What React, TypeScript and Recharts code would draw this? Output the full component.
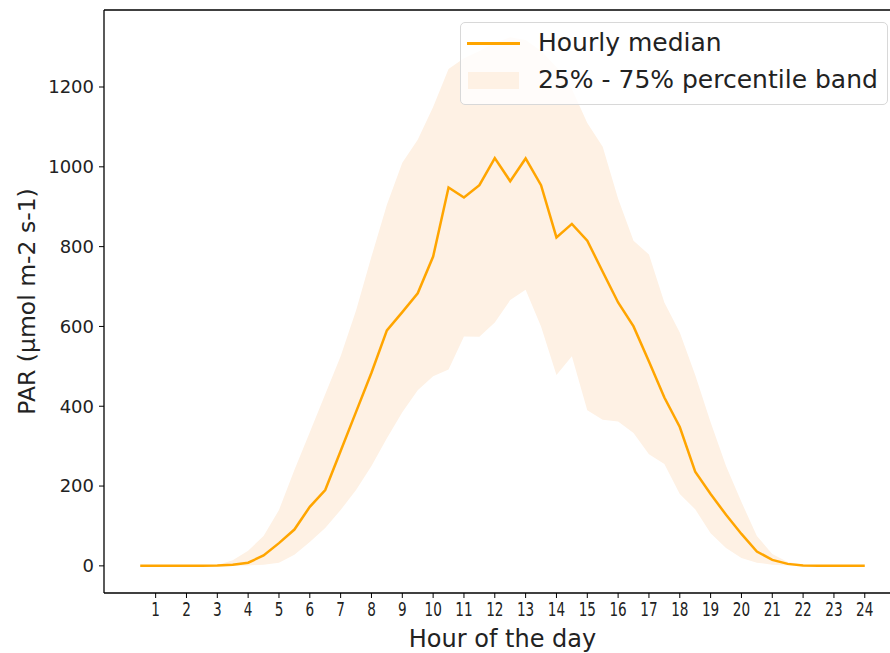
import { ComposedChart, Area, Line, XAxis, YAxis, Legend, Label, ReferenceLine } from "recharts";

// half-hour steps, 0.5 .. 24
const hours = [
  0.5, 1, 1.5, 2, 2.5, 3, 3.5, 4, 4.5, 5, 5.5, 6, 6.5, 7, 7.5, 8, 8.5, 9, 9.5, 10,
  10.5, 11, 11.5, 12, 12.5, 13, 13.5, 14, 14.5, 15, 15.5, 16, 16.5, 17, 17.5, 18,
  18.5, 19, 19.5, 20, 20.5, 21, 21.5, 22, 22.5, 23, 23.5, 24,
];

const medianPar = [
  0, 0, 0, 0, 0, 1, 3, 8, 26, 57, 91, 148, 190, 288, 386, 484, 590, 636, 683, 775,
  948, 923, 954, 1022, 964, 1021, 954, 823, 857, 815, 737, 660, 600, 512, 422, 348,
  236, 180, 128, 80, 36, 15, 5, 1, 0, 0, 0, 0,
];

const p25Par = [
  0, 0, 0, 0, 0, 0, 0, 1, 3, 8, 28, 60, 95, 140, 190, 250, 320, 385, 440, 475,
  492, 575, 574, 610, 666, 692, 600, 478, 525, 390, 366, 362, 333, 280, 255, 180,
  142, 82, 45, 20, 8, 3, 1, 0, 0, 0, 0, 0,
];

const p75Par = [
  0, 0, 0, 0, 0, 2, 14, 38, 75, 140, 240, 335, 430, 525, 640, 775, 905, 1010, 1068, 1150,
  1245, 1272, 1290, 1310, 1325, 1318, 1290, 1250, 1195, 1110, 1050, 920, 815, 780, 660, 585,
  478, 360, 250, 160, 75, 30, 10, 3, 1, 0, 0, 0,
];

const hourTicks = [1, 2, 3, 4, 5, 6, 7, 8, 9, 10, 11, 12, 13, 14, 15, 16, 17, 18, 19, 20, 21, 22, 23, 24];
const parTicks = [0, 200, 400, 600, 800, 1000, 1200];

const ORANGE = "#FFA500";
const BAND = "#FEF1E4";
const FONT = "DejaVu Sans";
const Y_DOMAIN = [-68, 1393];

const data = hours.map((hour, i) => ({
  hour,
  median: medianPar[i],
  band: [p25Par[i], p75Par[i]],
}));

// x tick labels in the original are narrow/tall, so squeeze them a bit
const HourTick = ({ x, y, payload }: any) => (
  <text
    transform={`translate(${x},${y}) scale(0.68,1)`}
    textAnchor="middle"
    dy="0.71em"
    fontSize={20}
    fontFamily={FONT}
    fill="#222"
  >
    {payload.value}
  </text>
);

const LegendBox = () => (
  <div
    style={{
      position: "relative",
      width: 428,
      height: 83,
      boxSizing: "border-box",
      border: "1px solid #d8d8d8",
      borderRadius: 5,
      background: "rgba(255,255,255,0.8)",
      fontFamily: FONT,
      fontSize: 25,
      lineHeight: "25px",
      color: "#222",
    }}
  >
    <div style={{ position: "absolute", left: 6, top: 19, width: 53, height: 2.5, background: ORANGE }} />
    <div style={{ position: "absolute", left: 7, top: 49, width: 51, height: 17, background: BAND }} />
    <div style={{ position: "absolute", left: 77, top: 7, whiteSpace: "nowrap" }}>Hourly median</div>
    <div style={{ position: "absolute", left: 77, top: 44, whiteSpace: "nowrap" }}>
      25% - 75% percentile band
    </div>
  </div>
);

export default function App() {
  return (
    <div style={{ position: "absolute", left: 0, top: 0, width: 890, height: 653, overflow: "hidden", background: "#fff" }}>
      <ComposedChart width={910} height={653} data={data} margin={{ top: 10, right: 9, bottom: 0, left: 0 }}>
        <XAxis
          dataKey="hour"
          type="number"
          domain={[-0.675, 25.175]}
          allowDataOverflow
          ticks={hourTicks}
          interval={0}
          height={60}
          tickSize={5}
          tickMargin={4}
          tick={<HourTick />}
          tickLine={{ stroke: "#000" }}
          axisLine={{ stroke: "#000", strokeWidth: 1.3 }}
        >
          <Label
            content={({ viewBox }: any) => (
              <text
                x={viewBox.x + viewBox.width / 2}
                y={647}
                textAnchor="middle"
                fontSize={24}
                fontFamily={FONT}
                fill="#222"
              >
                Hour of the day
              </text>
            )}
          />
        </XAxis>
        <YAxis
          type="number"
          domain={Y_DOMAIN}
          allowDataOverflow
          ticks={parTicks}
          width={104}
          tickSize={5}
          tickMargin={5}
          tick={{ fontSize: 18, fontFamily: FONT, fill: "#222" }}
          tickLine={{ stroke: "#000" }}
          axisLine={{ stroke: "#000", strokeWidth: 1.3 }}
        >
          <Label
            content={({ viewBox }: any) => {
              const cy = viewBox.y + viewBox.height / 2;
              return (
                <text
                  x={35}
                  y={cy}
                  transform={`rotate(-90, 35, ${cy})`}
                  textAnchor="middle"
                  fontSize={23.5}
                  fontFamily={FONT}
                  fill="#222"
                >
                  PAR (µmol m-2 s-1)
                </text>
              );
            }}
          />
        </YAxis>
        <Area
          dataKey="band"
          type="linear"
          stroke="none"
          fill={BAND}
          fillOpacity={1}
          isAnimationActive={false}
          name="25% - 75% percentile band"
        />
        <Line
          dataKey="median"
          type="linear"
          stroke={ORANGE}
          strokeWidth={2.5}
          dot={false}
          activeDot={false}
          isAnimationActive={false}
          name="Hourly median"
        />
        {/* top spine of the frame */}
        <ReferenceLine y={Y_DOMAIN[1]} stroke="#000" strokeWidth={1.3} ifOverflow="visible" />
        {/* middle + center keeps the legend from eating into the plot offsets */}
        <Legend
          layout="horizontal"
          verticalAlign="middle"
          align="center"
          content={() => <LegendBox />}
          wrapperStyle={{ top: 22, left: 460, width: 428, height: 83 }}
        />
      </ComposedChart>
    </div>
  );
}
